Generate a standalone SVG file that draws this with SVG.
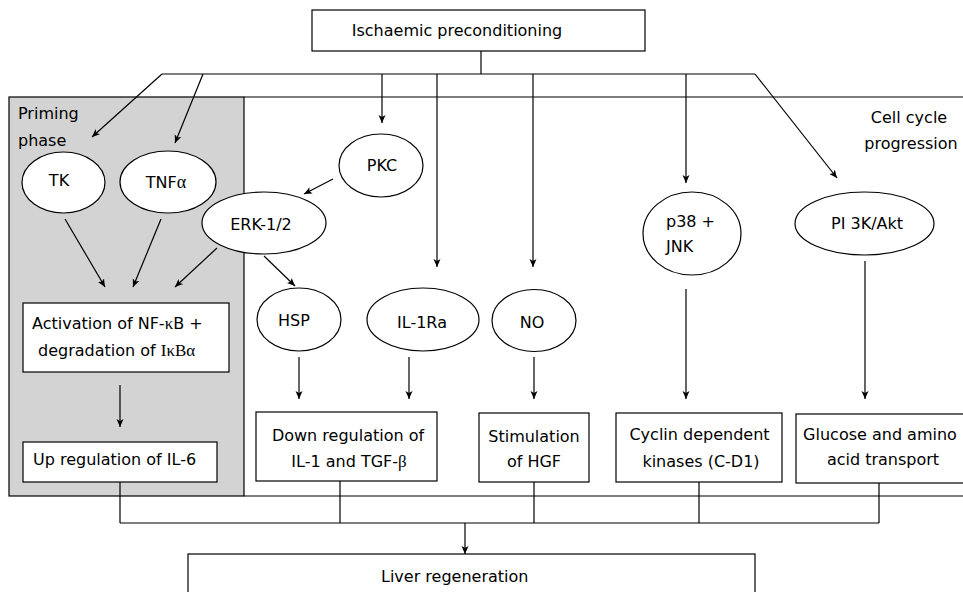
<svg xmlns="http://www.w3.org/2000/svg" width="963" height="592" viewBox="0 0 963 592">
<defs>
<style>
.t{font-family:"DejaVu Sans","Verdana",sans-serif;font-size:16px;fill:#000}
.m{text-anchor:middle}
.g{font-family:"Liberation Serif","DejaVu Serif",serif}
.b{fill:#fff;stroke:#000;stroke-width:1.2}
.l{fill:none;stroke:#000;stroke-width:1.2}
.a{fill:none;stroke:#000;stroke-width:1.2;marker-end:url(#ah)}
</style>
<marker id="ah" markerUnits="userSpaceOnUse" markerWidth="9" markerHeight="8" refX="8" refY="4" orient="auto">
<path d="M0,0.5 L8,4 L0,7.5 L2,4 z" fill="#000"/>
</marker>
</defs>
<rect width="963" height="592" fill="#fff"/>
<g id="panels">
<rect x="9" y="97" width="235" height="399" fill="#d3d3d3" stroke="#000" stroke-width="1.2"/>
<path class="l" d="M244,97 H963 M244,496 H963"/>
<text class="t" x="18" y="119">Priming</text>
<text class="t" x="18" y="146">phase</text>
<text class="t m" x="909" y="123">Cell cycle</text>
<text class="t m" x="911" y="149">progression</text>
</g>
<g id="connectors">
<path class="l" d="M481,51 V74 M162,74 H755"/>
<path class="a" d="M162,74 L92,137"/>
<path class="a" d="M203,74 L175,143"/>
<path class="a" d="M382,74 V123"/>
<path class="a" d="M437,74 V267"/>
<path class="a" d="M533,74 V267"/>
<path class="a" d="M686,74 V183"/>
<path class="a" d="M755,74 L837,178"/>
<path class="a" d="M65,219 L105,287"/>
<path class="a" d="M161,219 L133,287"/>
<path class="a" d="M217,248 L175,287"/>
<path class="a" d="M333,179 L304,194"/>
<path class="a" d="M264,256 L295,286"/>
<path class="a" d="M120,385 V427"/>
<path class="a" d="M299,357 V399"/>
<path class="a" d="M409,357 V399"/>
<path class="a" d="M534,357 V399"/>
<path class="a" d="M686,289 V399"/>
<path class="a" d="M865,261 V399" stroke="#444"/>
<path class="l" d="M120,482 V523 M340,481 V523 M534,482 V523 M699,482 V523 M879,483 V523 M120,523 H879"/>
<path class="a" d="M465,523 V554"/>
</g>
<g id="ischaemic">
<rect class="b" x="312" y="10" width="333" height="41"/>
<text class="t m" x="457" y="36">Ischaemic preconditioning</text>
</g>
<g id="tk">
<ellipse class="b" cx="63.5" cy="182.5" rx="41.5" ry="30.5"/>
<text class="t m" x="59" y="186">TK</text>
</g>
<g id="tnfa">
<ellipse class="b" cx="168" cy="182" rx="48" ry="31"/>
<text class="t m" x="166" y="188">TNF<tspan class="g" font-size="18">α</tspan></text>
</g>
<g id="pkc">
<ellipse class="b" cx="381" cy="165.5" rx="42" ry="31.5"/>
<text class="t m" x="382" y="171">PKC</text>
</g>
<g id="erk">
<ellipse class="b" cx="264" cy="223" rx="62" ry="31"/>
<text class="t m" x="261" y="230">ERK-1/2</text>
</g>
<g id="hsp">
<ellipse class="b" cx="299" cy="319.5" rx="42" ry="31.5"/>
<text class="t m" x="294" y="326">HSP</text>
</g>
<g id="il1ra">
<ellipse class="b" cx="423" cy="319.5" rx="56" ry="31.5"/>
<text class="t m" x="422" y="328">IL-1Ra</text>
</g>
<g id="no">
<ellipse class="b" cx="534" cy="320.5" rx="42" ry="31"/>
<text class="t m" x="532" y="328">NO</text>
</g>
<g id="p38">
<ellipse class="b" cx="692" cy="233.5" rx="49" ry="41.5"/>
<text class="t" x="666" y="227">p38 +</text>
<text class="t" x="666" y="252">JNK</text>
</g>
<g id="pi3k">
<ellipse class="b" cx="864.5" cy="223.5" rx="69.5" ry="31.5"/>
<text class="t m" x="867" y="229">PI 3K/Akt</text>
</g>
<g id="nfkb">
<rect class="b" x="23" y="303" width="206" height="69"/>
<text class="t" x="32" y="329">Activation of NF-<tspan class="g" font-size="17">κ</tspan>B +</text>
<text class="t" x="38" y="356">degradation of <tspan class="g" font-size="17">IκBα</tspan></text>
</g>
<g id="il6">
<rect class="b" x="23" y="442" width="194" height="40"/>
<text class="t" x="33" y="465">Up regulation of IL-6</text>
</g>
<g id="downreg">
<rect class="b" x="256" y="412" width="181" height="69"/>
<text class="t m" x="348" y="441">Down regulation of</text>
<text class="t m" x="349" y="467">IL-1 and TGF-<tspan class="g" font-size="17">β</tspan></text>
</g>
<g id="hgf">
<rect class="b" x="479" y="413" width="110" height="69"/>
<text class="t m" x="534" y="442">Stimulation</text>
<text class="t m" x="534" y="467">of HGF</text>
</g>
<g id="cyclin">
<rect class="b" x="616" y="413" width="166" height="69"/>
<text class="t m" x="699.5" y="440">Cyclin dependent</text>
<text class="t m" x="701" y="467">kinases (C-D1)</text>
</g>
<g id="glucose">
<rect class="b" x="796" y="414" width="170" height="69"/>
<text class="t m" x="880" y="440">Glucose and amino</text>
<text class="t m" x="883" y="465">acid transport</text>
</g>
<g id="liver">
<rect class="b" x="188" y="554" width="567" height="45"/>
<text class="t" x="381" y="582">Liver regeneration</text>
</g>
</svg>
